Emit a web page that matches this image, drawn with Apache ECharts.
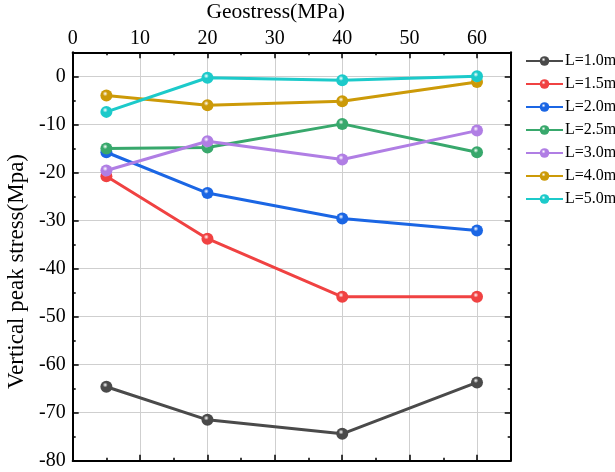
<!DOCTYPE html>
<html><head><meta charset="utf-8">
<script src="https://cdn.jsdelivr.net/npm/echarts@6/dist/echarts.min.js"></script>
<style>html,body{margin:0;padding:0;background:#fff}#c{width:615px;height:472px}</style>
</head><body><div id="c"></div>
<script>
var geostress = [5, 20, 40, 60];
var seriesNames = ['L=1.0m', 'L=1.5m', 'L=2.0m', 'L=2.5m', 'L=3.0m', 'L=4.0m', 'L=5.0m'];
var L10 = [-64.6, -71.5, -74.4, -63.7];
var L15 = [-20.8, -33.8, -45.9, -45.9];
var L20 = [-15.8, -24.3, -29.6, -32.1];
var L25 = [-15.0, -14.8, -9.9, -15.8];
var L30 = [-19.6, -13.5, -17.3, -11.3];
var L40 = [-4.0, -6.0, -5.2, -1.2];
var L50 = [-7.4, -0.3, -0.8, 0.0];
var seriesValues = [L10, L15, L20, L25, L30, L40, L50];
var colors = ['#4a4a4a', '#f04242', '#1b66e4', '#38a86c', '#b07ee4', '#cc9a08', '#1ccaca'];

var FONT = 'Liberation Serif';
var chart = echarts.init(document.getElementById('c'));

function axisCommon(extra) {
  var base = {
    axisLine: {show: true, onZero: false, lineStyle: {color: '#000', width: 2}},
    axisTick: {show: true, inside: true, length: 6, lineStyle: {color: '#000', width: 1.5}},
    minorTick: {show: true, splitNumber: 2, length: 3, lineStyle: {color: '#000', width: 1.5}},
    axisLabel: {color: '#000', fontFamily: FONT, fontSize: 20, showMaxLabel: false},
    splitLine: {show: false}
  };
  return Object.assign(base, extra);
}

var series = seriesNames.map(function (n, i) {
  return {
    name: n,
    type: 'line',
    xAxisIndex: 0, yAxisIndex: 0,
    data: geostress.map(function (x, j) { return [x, seriesValues[i][j]]; }),
    symbol: 'circle',
    symbolSize: 12,
    lineStyle: {color: colors[i], width: 3},
    itemStyle: {
      color: new echarts.graphic.RadialGradient(0.4, 0.35, 0.7, [
        {offset: 0, color: '#ffffff'},
        {offset: 0.3, color: colors[i]},
        {offset: 1, color: colors[i]}
      ])
    },
    z: 3
  };
});

chart.setOption({
  animation: false,
  grid: {left: 72.7, top: 52.3, right: 104.3, bottom: 11.3, containLabel: false, outerBoundsMode: 'none'},
  legend: {
    orient: 'vertical', left: 525, top: 53, padding: 0,
    itemWidth: 37, itemHeight: 12, itemGap: 7,
    textStyle: {fontFamily: FONT, fontSize: 16, color: '#000', lineHeight: 16, padding: [0, 0, 0, -3]},
    data: seriesNames
  },
  xAxis: [
    axisCommon({type: 'value', position: 'top', min: 0, max: 65, interval: 10,
      name: 'Geostress(MPa)', nameLocation: 'middle', nameGap: 23,
      nameTextStyle: {fontFamily: FONT, fontSize: 21.5, color: '#000', padding: [0, 32, 0, 0]},
      axisLabel: {color: '#000', fontFamily: FONT, fontSize: 20, showMaxLabel: false, margin: 4},
      splitLine: {show: true, lineStyle: {color: '#cfcfcf', width: 1}}}),
    axisCommon({type: 'value', position: 'bottom', min: 0, max: 65, interval: 10,
      axisLabel: {show: false}})
  ],
  yAxis: [
    axisCommon({type: 'value', position: 'left', min: -80, max: 5, interval: 10,
      name: 'Vertical peak stress(Mpa)', nameLocation: 'middle', nameGap: 36,
      nameTextStyle: {fontFamily: FONT, fontSize: 23, color: '#000', padding: [0, 30, 0, 0]},
      axisLabel: {color: '#000', fontFamily: FONT, fontSize: 20, showMaxLabel: false, margin: 7},
      splitLine: {show: true, lineStyle: {color: '#cfcfcf', width: 1}}}),
    axisCommon({type: 'value', position: 'right', min: -80, max: 5, interval: 10,
      axisLabel: {show: false}})
  ],
  series: series
});
</script></body></html>
